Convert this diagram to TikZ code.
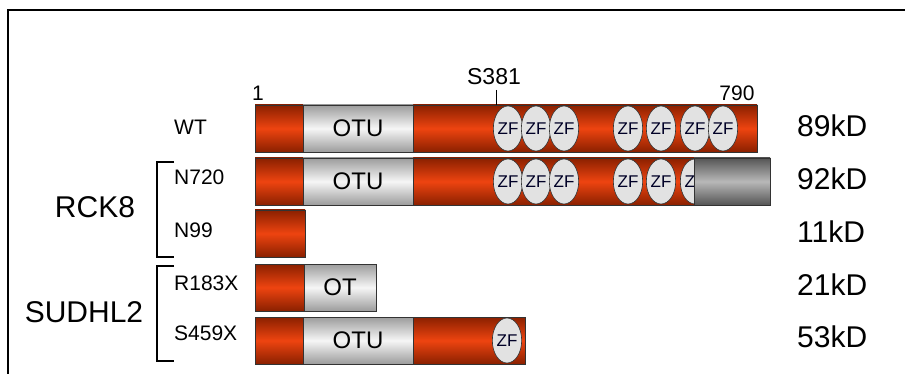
\documentclass[tikz,border=0pt]{standalone}
\usepackage{fontspec}
\setmainfont{Liberation Sans}
\usetikzlibrary{shapes.geometric}
\definecolor{rdark}{HTML}{8A2000}
\definecolor{rbright}{HTML}{EE4410}
\definecolor{gedge}{HTML}{9C9C9C}
\definecolor{gmid}{HTML}{F6F6F6}
\definecolor{cdark}{HTML}{555555}
\definecolor{cmid}{HTML}{B8B8B8}
\definecolor{zffill}{HTML}{E2E2E2}
\tikzset{
 seg/.style={draw=black!80, line width=0.8pt, minimum height=47pt, inner sep=0pt, outer sep=0pt, anchor=north west},
 redseg/.style={seg, top color=rdark, bottom color=rdark, middle color=rbright},
 otuseg/.style={seg, top color=gedge, bottom color=gedge, middle color=gmid, font=\fontsize{24}{24}\selectfont},
 ctseg/.style={seg, top color=cdark, bottom color=cdark, middle color=cmid},
 zf/.style={ellipse, draw=black!80, line width=0.6pt, fill=zffill, minimum width=28pt, minimum height=45pt, inner sep=0pt, font=\fontsize{17}{17}\selectfont, text=black!85!blue},
 lab/.style={font=\fontsize{21}{21}\selectfont, anchor=west, inner sep=0pt},
 big/.style={font=\fontsize{30}{30}\selectfont, inner sep=0pt},
 poslab/.style={font=\fontsize{21}{21}\selectfont, inner sep=0pt},
 brk/.style={line width=2.4pt},
}
\begin{document}
\begin{tikzpicture}[x=1pt,y=-1pt]
\useasboundingbox (0,0) rectangle (905,374);
% frame
\draw[line width=2.5pt] (8,374) -- (8,10) -- (905,10);
% WT
\node[redseg, minimum width=502pt] (wt) at (255,105) {};
\node[otuseg, minimum width=110pt] (wtotu) at (303,105) {OTU};
\foreach \x/\n in {508/1,536/2,564/3,628/4,661/5,695/6,723/7}
  \node[zf] (wtzf\n) at (\x,128.5) {ZF};
\node[poslab] (one) at (258,93) {1};
\node[poslab] (n790) at (737,93) {790};
\node[poslab, font=\fontsize{23}{23}\selectfont] (s381) at (494,77) {S381};
\coordinate (tickt) at (496,90);
\draw[line width=0.8pt] (tickt) -- (tickt |- wt.north);
% N720
\node[redseg, minimum width=439pt] (n720) at (255,158) {};
\node[otuseg, minimum width=110pt] (n720otu) at (303,158) {OTU};
\foreach \x/\n in {508/1,536/2,564/3,628/4,661/5,695/6}
  \node[zf] (n720zf\n) at (\x,181.5) {ZF};
\node[ctseg, minimum width=76pt] (n720ct) at (694,158) {};
% N99
\node[redseg, minimum width=50pt] (n99) at (255,210) {};
% R183X
\node[redseg, minimum width=49pt] (r183) at (255,264) {};
\node[otuseg, minimum width=72pt] (r183otu) at (304,264) {OT};
% S459X
\node[redseg, minimum width=270pt] (s459) at (255,317) {};
\node[otuseg, minimum width=110pt] (s459otu) at (303,317) {OTU};
\node[zf] (s459zf) at (507,340.5) {ZF};
% row labels
\node[lab] (lwt) at (174,127) {WT};
\node[lab] (ln720) at (174,177) {N720};
\node[lab] (ln99) at (174,230) {N99};
\node[lab] (lr183) at (174,283) {R183X};
\node[lab] (ls459) at (174,333) {S459X};
\node[big] (rck8) at (95,207) {RCK8};
\node[big] (sudhl2) at (84,312) {SUDHL2};
% brackets
\draw[brk] (174,162) -- (157,162) -- (157,257) -- (174,257);
\draw[brk] (174,266) -- (157,266) -- (157,361) -- (174,361);
% sizes
\node[big, anchor=west] (k89) at (797,126) {89kD};
\node[big, anchor=west] (k92) at (797,179) {92kD};
\node[big, anchor=west] (k11) at (797,232) {11kD};
\node[big, anchor=west] (k21) at (797,285) {21kD};
\node[big, anchor=west] (k53) at (797,337) {53kD};
\end{tikzpicture}
\end{document}
